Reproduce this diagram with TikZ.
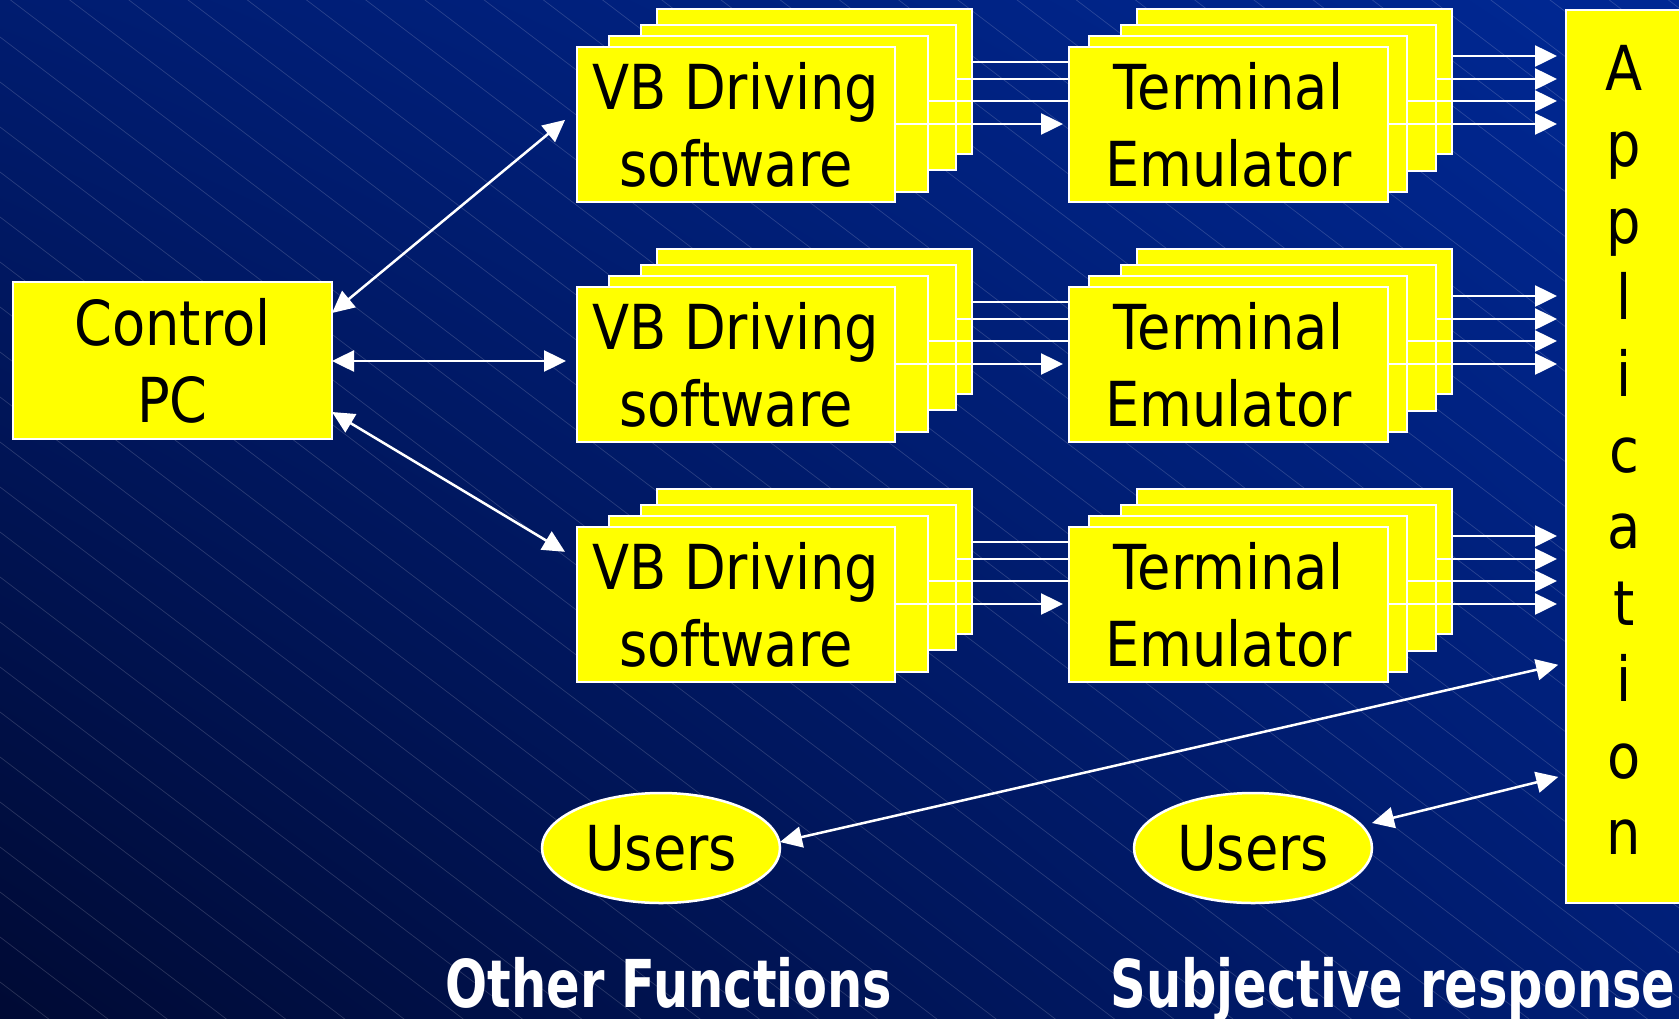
\documentclass[tikz,border=0pt]{standalone}
\usepackage{fontspec}
\setmainfont{DejaVu Sans}[FakeStretch=0.875]
\newfontfamily\lblfont{DejaVu Sans}[FakeStretch=0.75]
\usetikzlibrary{arrows.meta,shapes.geometric,shadings}
\definecolor{bgUL}{RGB}{0,28,112}
\definecolor{bgUR}{RGB}{0,40,148}
\definecolor{bgLL}{RGB}{0,10,52}
\definecolor{bgLR}{RGB}{0,30,118}
\definecolor{boxyellow}{RGB}{255,255,0}
\begin{document}
\begin{tikzpicture}[x=1pt,y=-1pt,
  box/.style={draw=white, line width=2.5pt, fill=boxyellow, inner sep=0pt, outer sep=0pt,
    anchor=north west, text=black, align=center, font=\fontsize{62}{77}\selectfont},
  userbox/.style={ellipse, draw=white, line width=2.5pt, fill=boxyellow, inner sep=0pt, outer sep=0pt,
    minimum width=238pt, minimum height=110pt, text=black, font=\fontsize{62}{77}\selectfont},
  bgline/.style={white, opacity=0.16, line width=0.7pt},
  bigtri/.tip={Triangle[length=22pt,width=21pt]},
  conn/.style={white, line width=2.5pt},
  lbl/.style={text=white, inner sep=0pt, anchor=base, font=\lblfont\bfseries\fontsize{66}{70}\selectfont}]
\useasboundingbox (0,0) rectangle (1679,1018);
\begin{scope}
\clip (0,0) rectangle (1679,1018);
\shade[upper left=bgUL, upper right=bgUR, lower left=bgLL, lower right=bgLR] (0,0) rectangle (1679,1018);
\foreach \k in {-30,...,22} \draw[bgline] (0,{37+45*\k}) -- (1679,{37+45*\k+1276});
% application box (extends past the right edge)
\node[box, minimum width=118pt, minimum height=893pt] (app) at (1566,10) {};
\end{scope}
\node[anchor=north, inner sep=0pt, align=center, text=black, font=\fontsize{62}{76.4}\selectfont] (apptxt) at (1624,45) {A\\p\\p\\l\\i\\c\\a\\t\\i\\o\\n};

% control PC
\node[box, minimum width=319pt, minimum height=157pt] (ctrl) at (13,282) {Control\\PC};

% rows
\foreach \r/\dy in {1/0,2/240,3/480} {
  \pgfmathsetmacro{\ya}{62+\dy}
  \pgfmathsetmacro{\yb}{79+\dy}
  \pgfmathsetmacro{\yc}{101+\dy}
  \pgfmathsetmacro{\yd}{124+\dy}
  \pgfmathsetmacro{\ye}{56+\dy}
  \node[box, minimum width=315pt, minimum height=145pt] (vbd\r) at (657,{9+\dy}) {};
  \node[box, minimum width=315pt, minimum height=145pt] (vbc\r) at (641,{25+\dy}) {};
  \node[box, minimum width=319pt, minimum height=156pt] (vbb\r) at (609,{36+\dy}) {};
  \node[box, minimum width=318pt, minimum height=155pt] (vba\r) at (577,{47+\dy}) {VB Driving\\software};
  \node[box, minimum width=315pt, minimum height=145pt] (ted\r) at (1137,{9+\dy}) {};
  \node[box, minimum width=315pt, minimum height=146pt] (tec\r) at (1121,{25+\dy}) {};
  \node[box, minimum width=318pt, minimum height=156pt] (teb\r) at (1089,{36+\dy}) {};
  \node[box, minimum width=319pt, minimum height=155pt] (tea\r) at (1069,{47+\dy}) {Terminal\\Emulator};
  % VB -> terminal
  \draw[conn] (vbd\r.east |- 0,\ya) -- (tea\r.west |- 0,\ya);
  \draw[conn] (vbc\r.east |- 0,\yb) -- (tea\r.west |- 0,\yb);
  \draw[conn] (vbb\r.east |- 0,\yc) -- (tea\r.west |- 0,\yc);
  \draw[conn, -{bigtri}, shorten >=6pt] (vba\r.east |- 0,\yd) -- (tea\r.west |- 0,\yd);
  % terminal -> application
  \draw[conn, -{bigtri}, shorten >=9pt] (ted\r.east |- 0,\ye) -- (app.west |- 0,\ye);
  \draw[conn, -{bigtri}, shorten >=9pt] (tec\r.east |- 0,\yb) -- (app.west |- 0,\yb);
  \draw[conn, -{bigtri}, shorten >=9pt] (teb\r.east |- 0,\yc) -- (app.west |- 0,\yc);
  \draw[conn, -{bigtri}, shorten >=9pt] (tea\r.east |- 0,\yd) -- (app.west |- 0,\yd);
}

% control PC <-> VB
\draw[conn, {bigtri}-{bigtri}, shorten >=15.5pt] (ctrl.east |- 0,313) -- (vba1.west |- 0,110);
\draw[conn, {bigtri}-{bigtri}, shorten >=11pt] (ctrl.east |- 0,361) -- (vba2.west |- 0,361);
\draw[conn, {bigtri}-{bigtri}, shorten >=14pt] (ctrl.east |- 0,412) -- (vba3.west |- 0,559);

% users
\node[userbox] (u1) at (661,848) {Users};
\node[userbox] (u2) at (1253,848) {Users};
\draw[conn, {bigtri}-{bigtri}, shorten >=8pt] ([yshift=6pt]u1.east) -- (app.west |- 0,663);
\draw[conn, {bigtri}-{bigtri}, shorten >=8pt] ([yshift=25pt]u2.east) -- (app.west |- 0,775);

% labels
\node[lbl] (lblA) at (669,1007) {Other Functions};
\node[lbl] (lblB) at (1393,1007) {Subjective response};
\end{tikzpicture}
\end{document}
